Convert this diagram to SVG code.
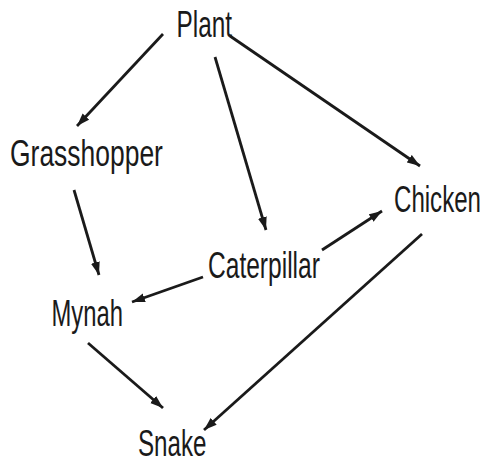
<svg xmlns="http://www.w3.org/2000/svg" width="487" height="464" viewBox="0 0 487 464">
<defs>
<marker id="ah" markerUnits="userSpaceOnUse" markerWidth="14" markerHeight="10" refX="13" refY="5" orient="auto">
<path d="M0,0.5 L13,5 L0,9.5 Z" fill="#1a1a1a"/>
</marker>
<style>
.lbl{font-family:"Liberation Sans",Arial,sans-serif;font-size:37px;fill:#1a1a1a}
.c line{stroke:#1a1a1a;stroke-width:2.8;marker-end:url(#ah)}
</style>
</defs>
<rect width="487" height="464" fill="#fff"/>
<g class="c" id="connectors">
<line x1="163" y1="34" x2="77" y2="126"/>
<line x1="215" y1="57" x2="266" y2="230"/>
<line x1="230" y1="36" x2="420" y2="166"/>
<line x1="74" y1="190" x2="99" y2="275"/>
<line x1="203" y1="277" x2="132" y2="302"/>
<line x1="322" y1="250" x2="382" y2="211"/>
<line x1="422" y1="234" x2="204" y2="430"/>
<line x1="88" y1="343" x2="163" y2="408"/>
</g>
<g id="plant"><text class="lbl" transform="translate(176.5,37) scale(0.658,1)">Plant</text></g>
<g id="grasshopper"><text class="lbl" transform="translate(10,166) scale(0.715,1)">Grasshopper</text></g>
<g id="chicken"><text class="lbl" transform="translate(394,212) scale(0.651,1)">Chicken</text></g>
<g id="caterpillar"><text class="lbl" transform="translate(208,278) scale(0.664,1)">Caterpillar</text></g>
<g id="mynah"><text class="lbl" transform="translate(51.5,326) scale(0.644,1)">Mynah</text></g>
<g id="snake"><text class="lbl" transform="translate(138,456) scale(0.653,1)">Snake</text></g>
</svg>
